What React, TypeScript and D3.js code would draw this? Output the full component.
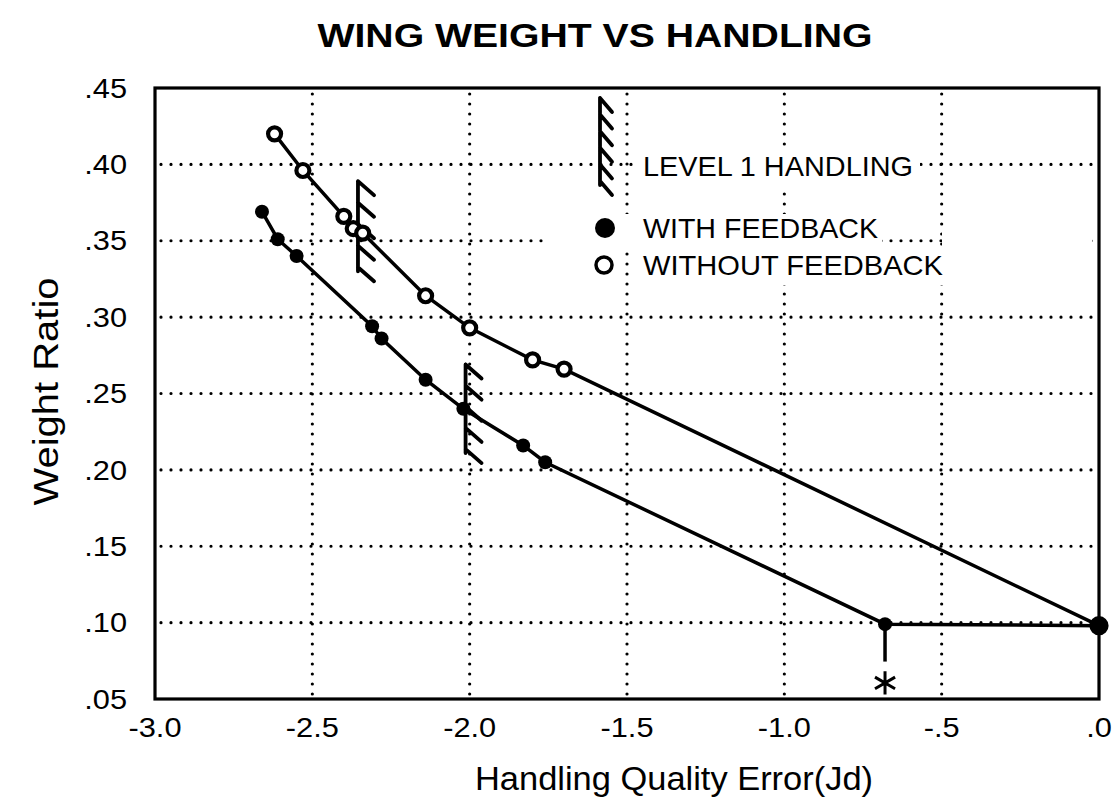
import React from "react";
import * as d3 from "d3";

// points
const withFbX = [-2.66, -2.61, -2.55, -2.31, -2.28, -2.14, -2.02, -1.83, -1.76, -0.68, 0.0];
const withFbY = [0.369, 0.351, 0.340, 0.294, 0.286, 0.259, 0.240, 0.216, 0.205, 0.099, 0.098];

const withoutFbX = [-2.62, -2.53, -2.40, -2.37, -2.34, -2.14, -2.0, -1.8, -1.7, 0.0];
const withoutFbY = [0.42, 0.396, 0.366, 0.358, 0.355, 0.314, 0.293, 0.272, 0.266, 0.098];

// level 1 handling boundaries: x, yTop, yBottom
const hatchX = [-2.355, -2.013];
const hatchTop = [0.389, 0.269];
const hatchBottom = [0.33, 0.211];

const xTicks = [-3.0, -2.5, -2.0, -1.5, -1.0, -0.5, 0.0];
const xTickLabels = ["-3.0", "-2.5", "-2.0", "-1.5", "-1.0", "-.5", ".0"];
const yTicks = [0.05, 0.1, 0.15, 0.2, 0.25, 0.3, 0.35, 0.4, 0.45];
const yTickLabels = [".05", ".10", ".15", ".20", ".25", ".30", ".35", ".40", ".45"];

const font = "'Liberation Sans', Arial, Helvetica, sans-serif";

const width = 1115;
const height = 802;
const margin = { top: 88, right: 16, bottom: 103, left: 155 };

const App = () => {
  const x = d3
    .scaleLinear()
    .domain([-3, 0])
    .range([margin.left, width - margin.right]);
  const y = d3
    .scaleLinear()
    .domain([0.05, 0.45])
    .range([height - margin.bottom, margin.top]);

  const line = d3
    .line<[number, number]>()
    .x((d) => x(d[0]))
    .y((d) => y(d[1]));

  const withPts: [number, number][] = withFbX.map((v, i) => [v, withFbY[i]]);
  const withoutPts: [number, number][] = withoutFbX.map((v, i) => [v, withoutFbY[i]]);

  const gridX = xTicks.slice(1, -1);
  const gridY = yTicks.slice(1, -1);

  // hatch ticks hanging off a vertical line
  const hatch = (px: number, top: number, bottom: number, n: number, dx: number, dy: number) => {
    const out: string[] = [`M${px},${top}L${px},${bottom}`];
    for (let i = 0; i < n; i++) {
      const yy = top + ((bottom - top - 4) * i) / (n - 1);
      out.push(`M${px},${yy}L${px + dx},${yy + dy}`);
    }
    return out.join("");
  };

  const star = d3.symbol(d3.symbolAsterisk, 380)();

  return (
    <svg
      width={width}
      height={height}
      style={{ position: "absolute", left: 0, top: 0, background: "#fff" }}
      fontFamily={font}
    >
      <text
        x={595}
        y={47}
        textAnchor="middle"
        fontSize={34}
        fontWeight="bold"
        textLength={555}
        lengthAdjust="spacingAndGlyphs"
      >
        WING WEIGHT VS HANDLING
      </text>

      {/* grid */}
      <g stroke="#000" strokeWidth={3.2} strokeLinecap="round" strokeDasharray="0 10">
        {gridX.map((t) => (
          <line key={"gx" + t} x1={x(t)} x2={x(t)} y1={y(0.45) + 6} y2={y(0.05)} />
        ))}
        {gridY.map((t) => (
          <line key={"gy" + t} x1={x(-3) + 6} x2={x(0)} y1={y(t)} y2={y(t)} />
        ))}
      </g>

      {/* legend backgrounds hide the grid behind the text */}
      <g fill="#fff">
        <rect x={638} y={148} width={282} height={38} />
        <rect x={545} y={214} width={337} height={34} />
        <rect x={942} y={228} width={150} height={20} />
        <rect x={637} y={251} width={312} height={34} />
      </g>

      {/* frame */}
      <rect
        x={x(-3)}
        y={y(0.45)}
        width={x(0) - x(-3)}
        height={y(0.05) - y(0.45)}
        fill="none"
        stroke="#000"
        strokeWidth={3.2}
      />

      {/* tick labels */}
      <g fontSize={27} fill="#000">
        {xTicks.map((t, i) => (
          <g key={"xt" + t} transform={`translate(${x(t)},737) scale(1.14,1)`}>
            <text textAnchor="middle">{xTickLabels[i]}</text>
          </g>
        ))}
        {yTicks.map((t, i) => (
          <g key={"yt" + t} transform={`translate(127,${y(t)}) scale(1.14,1)`}>
            <text dy="0.36em" textAnchor="end">
              {yTickLabels[i]}
            </text>
          </g>
        ))}
      </g>

      <text
        x={674}
        y={790}
        textAnchor="middle"
        fontSize={34}
        textLength={398}
        lengthAdjust="spacingAndGlyphs"
      >
        Handling Quality Error(Jd)
      </text>
      <text
        transform={`translate(58,${(y(0.45) + y(0.05)) / 2 - 2}) rotate(-90)`}
        textAnchor="middle"
        fontSize={35}
        textLength={228}
        lengthAdjust="spacingAndGlyphs"
      >
        Weight Ratio
      </text>

      {/* level 1 handling boundaries */}
      <g stroke="#000" strokeWidth={3.8} fill="none" strokeLinecap="round">
        {hatchX.map((h, i) => (
          <path key={"h" + i} d={hatch(x(h), y(hatchTop[i]), y(hatchBottom[i]), 5, 16, 14)} />
        ))}
      </g>

      {/* series lines */}
      <path d={line(withPts) || ""} fill="none" stroke="#000" strokeWidth={3.5} />
      <path d={line(withoutPts) || ""} fill="none" stroke="#000" strokeWidth={3.5} />

      {/* feedback marker annotation */}
      <line
        x1={x(-0.68)}
        x2={x(-0.68)}
        y1={y(0.099)}
        y2={y(0.0745)}
        stroke="#000"
        strokeWidth={3.5}
      />
      <path
        d={star || ""}
        transform={`translate(${x(-0.68)},${y(0.0605)})`}
        fill="none"
        stroke="#000"
        strokeWidth={3}
      />

      {/* markers */}
      {withPts.map((d, i) => (
        <circle key={"w" + i} cx={x(d[0])} cy={y(d[1])} r={7} fill="#000" />
      ))}
      {withoutPts.map((d, i) => (
        <circle
          key={"o" + i}
          cx={x(d[0])}
          cy={y(d[1])}
          r={i === withoutPts.length - 1 ? 7.5 : 6.5}
          fill={i === withoutPts.length - 1 ? "#000" : "#fff"}
          stroke="#000"
          strokeWidth={4.2}
        />
      ))}

      {/* legend */}
      <path
        d={hatch(600, 98, 185, 6, 12, 14)}
        stroke="#000"
        strokeWidth={3.8}
        fill="none"
        strokeLinecap="round"
      />
      <g fontSize={28} fill="#000">
        <text x={643} y={176} textLength={270} lengthAdjust="spacingAndGlyphs">
          LEVEL 1 HANDLING
        </text>
        <circle cx={605} cy={228} r={10} fill="#000" />
        <text x={643} y={238} textLength={235} lengthAdjust="spacingAndGlyphs">
          WITH FEEDBACK
        </text>
        <circle cx={604} cy={265} r={8} fill="#fff" stroke="#000" strokeWidth={3.5} />
        <text x={643} y={275} textLength={300} lengthAdjust="spacingAndGlyphs">
          WITHOUT FEEDBACK
        </text>
      </g>
    </svg>
  );
};

export default App;
